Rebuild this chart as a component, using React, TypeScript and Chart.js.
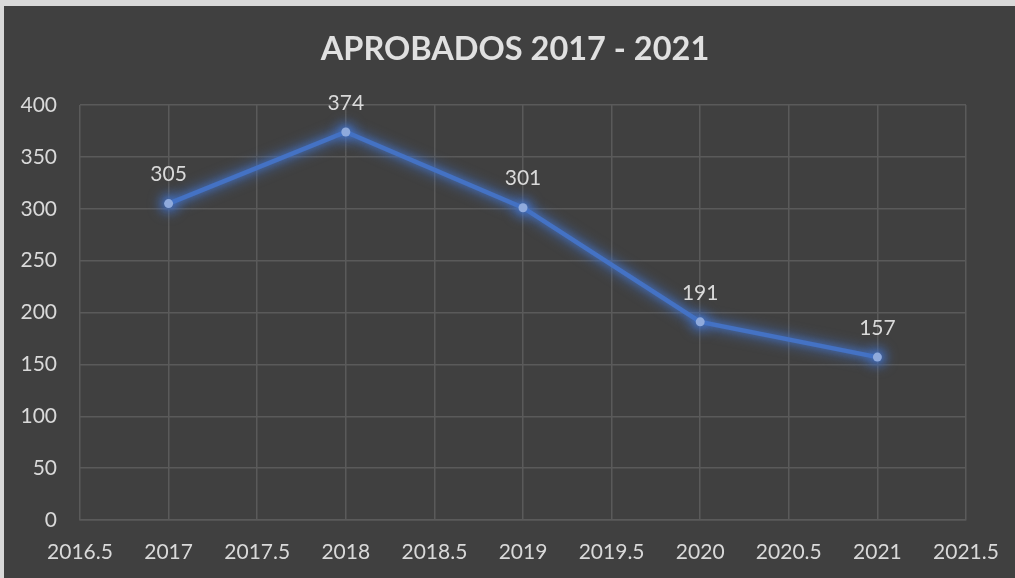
import React, { useEffect, useRef } from "react";
import { Chart, registerables } from "chart.js";

Chart.register(...registerables);

const years = [2017, 2018, 2019, 2020, 2021];
const aprobados = [305, 374, 301, 191, 157];
const titleText = "APROBADOS 2017 - 2021";
const xMin = 2016.5;
const xMax = 2021.5;
const yMin = 0;
const yMax = 400;

const FONT = "Lato, 'Open Sans', sans-serif";
const TEXT = "#d9d9d9";
const GRID = "#5a5a5a";
const W = 1011;
const H = 572;

const glowPlugin = {
  id: "glow",
  beforeDraw(chart: any) {
    const ctx = chart.ctx;
    ctx.save();
    ctx.font = `bold 32.5px ${FONT}`;
    ctx.fillStyle = "#e0e0e0";
    ctx.textAlign = "center";
    ctx.textBaseline = "middle";
    ctx.fillText(titleText, chart.width / 2 + 5.5, 44);
    ctx.restore();
  },
  beforeDatasetsDraw(chart: any) {
    const ctx = chart.ctx;
    const meta = chart.getDatasetMeta(0);
    ctx.save();
    ctx.filter = "blur(6px)";
    ctx.strokeStyle = "rgba(68,114,196,0.5)";
    ctx.lineWidth = 13;
    ctx.lineJoin = "round";
    ctx.lineCap = "round";
    ctx.beginPath();
    meta.data.forEach((pt: any, i: number) => {
      if (i === 0) ctx.moveTo(pt.x, pt.y);
      else ctx.lineTo(pt.x, pt.y);
    });
    ctx.stroke();
    ctx.fillStyle = "rgba(68,114,196,0.6)";
    meta.data.forEach((pt: any) => {
      ctx.beginPath();
      ctx.arc(pt.x, pt.y, 10, 0, Math.PI * 2);
      ctx.fill();
    });
    ctx.restore();
    ctx.save();
    ctx.shadowColor = "rgba(68,114,196,0.8)";
    ctx.shadowBlur = 6;
  },
  afterDatasetsDraw(chart: any) {
    const ctx = chart.ctx;
    ctx.restore();
    const meta = chart.getDatasetMeta(0);
    const data = chart.data.datasets[0].data as any[];
    ctx.save();
    ctx.font = `21px ${FONT}`;
    ctx.fillStyle = TEXT;
    ctx.textAlign = "center";
    ctx.textBaseline = "middle";
    meta.data.forEach((pt: any, i: number) => {
      ctx.fillText(String(data[i].y), pt.x, pt.y - 29);
    });
    ctx.restore();
  },
};

export default function App() {
  const ref = useRef<HTMLCanvasElement>(null);
  useEffect(() => {
    if (!ref.current) return;
    const chart = new Chart(ref.current, {
      type: "line",
      data: {
        datasets: [
          {
            data: years.map((y, i) => ({ x: y, y: aprobados[i] })),
            borderColor: "#4472C4",
            borderWidth: 4.5,
            pointRadius: 4.5,
            pointBackgroundColor: "#8FAADC",
            pointBorderWidth: 0,
            tension: 0,
          },
        ],
      },
      options: {
        animation: false,
        responsive: false,
        maintainAspectRatio: false,
        devicePixelRatio: 1,
        layout: { padding: { left: 0, right: 49, top: 99, bottom: 0 } },
        plugins: {
          legend: { display: false },
          tooltip: { enabled: false },
          title: { display: false },
        },
        scales: {
          x: {
            type: "linear",
            min: xMin,
            max: xMax,
            grid: { color: GRID, lineWidth: 1.5, drawTicks: false },
            border: { color: GRID, width: 1.5 },
            ticks: {
              stepSize: 0.5,
              color: TEXT,
              font: { family: FONT, size: 21 },
              padding: 20,
              maxRotation: 0,
              autoSkip: false,
              callback: (v: any) => String(v),
            },
            afterFit: (s: any) => {
              s.height = 58;
              s.paddingLeft = 0;
              s.paddingRight = 0;
            },
          },
          y: {
            min: yMin,
            max: yMax,
            grid: { color: GRID, lineWidth: 1.5, drawTicks: false },
            border: { display: false },
            ticks: {
              stepSize: 50,
              color: TEXT,
              font: { family: FONT, size: 21 },
              padding: 23,
            },
            afterFit: (s: any) => {
              s.width = 76;
            },
          },
        },
      },
      plugins: [glowPlugin],
    });
    return () => chart.destroy();
  }, []);
  return (
    <div style={{ position: "fixed", inset: 0, background: "#d9d9d9" }}>
      <div
        style={{
          position: "absolute",
          left: 4,
          top: 6,
          width: W,
          height: H,
          background: "#404040",
        }}
      >
        <canvas ref={ref} width={W} height={H} style={{ display: "block" }} />
      </div>
    </div>
  );
}
